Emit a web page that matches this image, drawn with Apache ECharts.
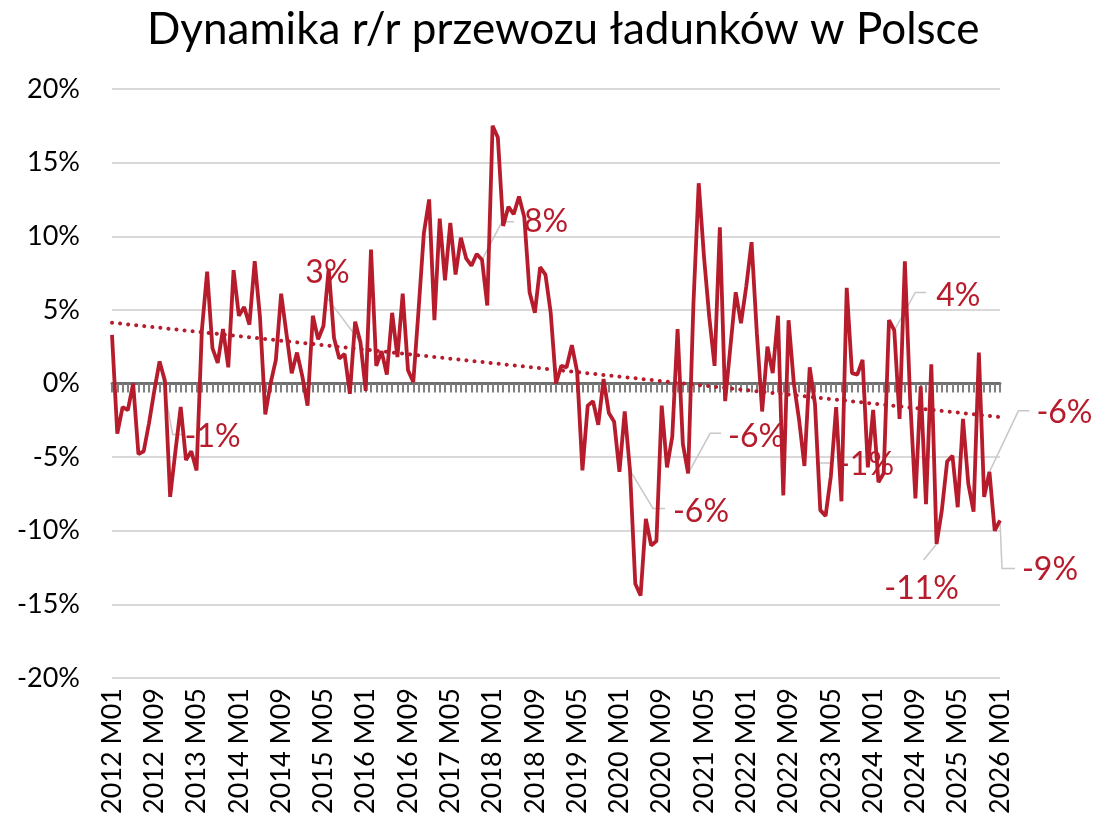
<!DOCTYPE html>
<html>
<head>
<meta charset="utf-8">
<title>Dynamika r/r przewozu ładunków w Polsce</title>
<script src="https://cdn.jsdelivr.net/npm/echarts@6/dist/echarts.min.js"></script>
<style>
html, body { margin: 0; padding: 0; background: #fff; }
#chart { width: 1096px; height: 829px; }
</style>
</head>
<body>
<div id="chart"></div>
<script>
// miesiące 2012 M01 .. 2026 M01
const firstYear = 2012
const monthCount = 169
const categories = []
for (let k = 0; k < monthCount; k++) {
  const m = (k % 12) + 1
  categories.push((firstYear + Math.floor(k / 12)) + ' M' + (m < 10 ? '0' + m : m))
}

// dynamika r/r, %
const values = [
  3.3, -3.4, -1.6, -1.8, 0.0, -4.8, -4.6, -2.7, -0.5, 1.5, 0.2, -7.7,
  -4.6, -1.6, -5.2, -4.6, -5.9, 3.6, 7.6, 2.4, 1.4, 3.7, 1.1, 7.7,
  4.6, 5.2, 4.0, 8.3, 4.5, -2.1, 0.0, 1.6, 6.1, 3.4, 0.7, 2.1,
  0.5, -1.5, 4.6, 3.0, 3.9, 7.8, 3.1, 1.7, 2.0, -0.7, 4.2, 2.8,
  -0.5, 9.1, 1.2, 2.2, 0.6, 4.8, 1.8, 6.1, 0.9, 0.1, 5.0, 10.2,
  12.5, 4.3, 11.2, 7.0, 10.9, 7.4, 9.9, 8.5, 8.0, 8.8, 8.4, 5.3,
  17.5, 16.7, 10.7, 12.0, 11.5, 12.7, 11.3, 6.2, 4.8, 7.9, 7.4, 4.8,
  0.0, 1.2, 1.1, 2.6, 0.8, -5.9, -1.5, -1.2, -2.8, 0.3, -2.0, -2.6,
  -6.0, -1.9, -5.9, -13.6, -14.4, -9.2, -11.0, -10.7, -1.5, -5.7, -3.6, 3.7,
  -4.1, -6.1, 5.4, 13.6, 8.6, 4.5, 1.2, 10.6, -1.2, 2.5, 6.2, 4.1,
  6.6, 9.6, 3.4, -1.9, 2.5, 0.7, 4.6, -7.6, 4.3, 0.0, -2.5, -5.6,
  1.1, -1.4, -8.6, -9.0, -6.3, -1.6, -8.0, 6.5, 0.7, 0.6, 1.6, -5.7,
  -1.8, -6.7, -6.1, 4.3, 3.6, -2.4, 8.3, -1.1, -7.8, -0.2, -8.2, 1.3,
  -10.9, -8.6, -5.3, -4.9, -8.4, -2.4, -6.8, -8.7, 2.1, -7.7, -6.0, -10.0,
  -9.3
]

// linia trendu (odczytane końce)
const trendEnds = [4.13, -2.28]

// etykiety danych
const labelIdx = [9, 47, 70, 98, 109, 133, 148, 156, 166, 168]
const labelText = ['-1%', '3%', '8%', '-6%', '-6%', '-1%', '4%', '-11%', '-6%', '-9%']
// przesunięcie tekstu i linii odniesienia względem punktu (px): tekst dx,dy, załamanie dx,dy, koniec dx,dy
const labelPlace = [
  [53, 75, 13, 73, 25, 73],
  [-33, -70, -33, -44, -33, -44],
  [64, -38, 20, -38, 32, -38],
  [71, 41, 23, 38, 35, 38],
  [68, -37, 22, -40, 33, -40],
  [51, 61, 3, 59, 16, 59],
  [64, -35, 21, -38, 32, -38],
  [-15, 45, -13, 16, -13, 16],
  [75, -59, 29, -61, 40, -61],
  [50, 49, 2, 48, 15, 48]
]

const red = '#B71C2C'
const font = 'Lato'

const myChart = echarts.init(document.getElementById('chart'))
const option = {
  animation: false,
  backgroundColor: '#fff',
  title: {
    text: 'Dynamika r/r przewozu ładunków w Polsce',
    left: 142,
    top: 3,
    padding: 5,
    textStyle: { fontFamily: font, fontSize: 44, fontWeight: 'normal', color: '#000' }
  },
  grid: { left: 112, right: 96, top: 89, bottom: 151 },
  xAxis: [
    {
      type: 'category',
      data: categories,
      boundaryGap: false,
      position: 'bottom',
      axisLine: { onZero: true, lineStyle: { color: '#6E6E6E', width: 3 } },
      axisTick: { show: true, interval: 0, length: 9, lineStyle: { color: '#808080', width: 2 } },
      axisLabel: { show: false },
      splitLine: { show: false }
    },
    {
      type: 'category',
      data: categories,
      boundaryGap: false,
      position: 'bottom',
      axisLine: { show: false, onZero: false },
      axisTick: { show: false },
      axisLabel: { interval: 7, rotate: 90, margin: 10, fontFamily: font, fontSize: 27, color: '#000' },
      splitLine: { show: false }
    }
  ],
  yAxis: {
    type: 'value',
    min: -20,
    max: 20,
    interval: 5,
    axisLine: { show: false },
    axisTick: { show: false },
    axisLabel: { formatter: '{value}%', margin: 32, fontFamily: font, fontSize: 27, color: '#000' },
    splitLine: { lineStyle: { color: '#D9D9D9', width: 2 } }
  },
  series: [
    {
      name: 'Dynamika r/r',
      type: 'line',
      data: values,
      showSymbol: false,
      z: 3,
      lineStyle: { color: red, width: 3.8 },
      itemStyle: { color: red },
      markLine: {
        silent: true,
        symbol: 'none',
        label: { show: false },
        lineStyle: { color: red, width: 4, type: [0.1, 8], cap: 'round' },
        data: [[{ coord: [categories[0], trendEnds[0]] }, { coord: [categories[monthCount - 1], trendEnds[1]] }]]
      }
    },
    {
      name: 'etykiety',
      type: 'custom',
      z: 1,
      silent: true,
      data: labelIdx.map(i => [i, values[i]]),
      renderItem (params, api) {
        const p = api.coord([api.value(0), api.value(1)])
        const o = labelPlace[params.dataIndex]
        return {
          type: 'group',
          children: [
            {
              type: 'polyline',
              shape: { points: [p, [p[0] + o[2], p[1] + o[3]], [p[0] + o[4], p[1] + o[5]]] },
              style: { stroke: '#C8C8C8', lineWidth: 1.5, fill: 'none' }
            },
            {
              type: 'text',
              x: p[0] + o[0],
              y: p[1] + o[1],
              style: {
                text: labelText[params.dataIndex],
                fill: red,
                fontFamily: font,
                fontSize: 32,
                align: 'center',
                verticalAlign: 'middle'
              }
            }
          ]
        }
      }
    }
  ]
}
myChart.setOption(option)
</script>
</body>
</html>
